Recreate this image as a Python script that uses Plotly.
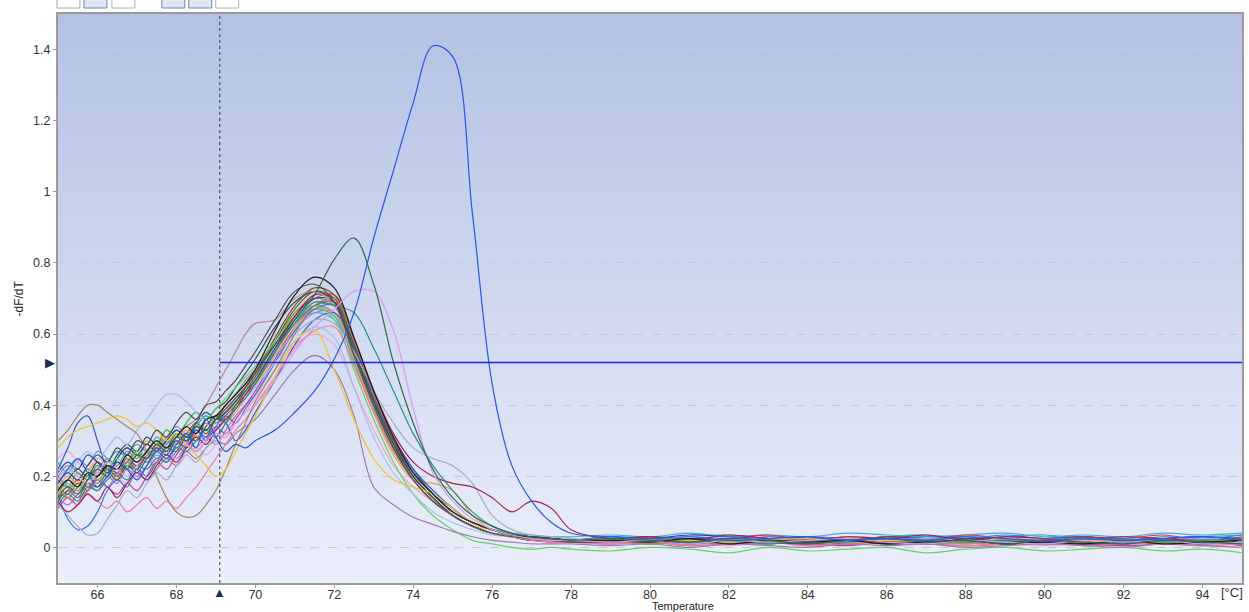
import plotly.graph_objects as go

# ---------------------------------------------------------------------------
# Melt-curve derivative data (-dF/dT) per well
# Temperature grid: 0.25 °C steps in the pre-melt region, 0.5 °C through the
# melt peak, 1 °C along the flat baseline.
# ---------------------------------------------------------------------------
TEMP_LOW = [65.0, 65.25, 65.5, 65.75, 66.0, 66.25, 66.5, 66.75, 67.0, 67.25, 67.5,
            67.75, 68.0, 68.25, 68.5, 68.75, 69.0, 69.25, 69.5, 69.75, 70.0]
TEMP_MID = [70.5, 71.0, 71.5, 72.0, 72.5, 73.0, 73.5, 74.0, 74.5, 75.0, 75.5,
            76.0, 76.5, 77.0, 77.5, 78.0]
TEMP_TAIL = [79, 80, 81, 82, 83, 84, 85, 86, 87, 88, 89, 90, 91, 92, 93, 94, 95]
TEMPS = TEMP_LOW + TEMP_MID + TEMP_TAIL

well_a1 = [0.16, 0.19, 0.17, 0.21, 0.20, 0.23, 0.22, 0.26, 0.24, 0.27, 0.30, 0.28, 0.31, 0.34, 0.32, 0.36, 0.37, 0.40, 0.43, 0.46, 0.50,
           0.61, 0.71, 0.76, 0.73, 0.59, 0.44, 0.31, 0.21, 0.15, 0.10, 0.07, 0.05, 0.035, 0.03, 0.025, 0.02,
           0.02, 0.015, 0.025, 0.01, 0.02, 0.015, 0.02, 0.01, 0.015, 0.02, 0.01, 0.015, 0.01, 0.02, 0.01, 0.015, 0.02]
well_a2 = [0.14, 0.17, 0.15, 0.19, 0.22, 0.20, 0.24, 0.22, 0.26, 0.25, 0.29, 0.27, 0.31, 0.30, 0.34, 0.33, 0.36, 0.38, 0.41, 0.44, 0.47,
           0.56, 0.64, 0.71, 0.81, 0.87, 0.74, 0.52, 0.35, 0.22, 0.14, 0.09, 0.06, 0.04, 0.03, 0.025, 0.02,
           0.025, 0.02, 0.015, 0.025, 0.02, 0.01, 0.02, 0.025, 0.015, 0.02, 0.01, 0.02, 0.015, 0.01, 0.02, 0.015, 0.01]
well_a3 = [0.19, 0.22, 0.20, 0.18, 0.21, 0.24, 0.22, 0.20, 0.23, 0.26, 0.24, 0.27, 0.25, 0.29, 0.27, 0.30, 0.32, 0.31, 0.35, 0.38, 0.40,
           0.47, 0.55, 0.62, 0.67, 0.72, 0.72, 0.61, 0.39, 0.21, 0.13, 0.08, 0.05, 0.035, 0.025, 0.02, 0.02,
           0.015, 0.02, 0.01, 0.02, 0.015, 0.02, 0.025, 0.015, 0.01, 0.02, 0.015, 0.01, 0.02, 0.015, 0.02, 0.01, 0.015]
well_a4 = [0.12, 0.15, 0.13, 0.17, 0.16, 0.19, 0.21, 0.19, 0.23, 0.22, 0.25, 0.24, 0.28, 0.27, 0.30, 0.33, 0.31, 0.35, 0.39, 0.42, 0.46,
           0.55, 0.63, 0.69, 0.68, 0.66, 0.56, 0.44, 0.32, 0.23, 0.16, 0.10, 0.06, 0.04, 0.03, 0.025, 0.02,
           0.02, 0.025, 0.015, 0.02, 0.01, 0.02, 0.015, 0.025, 0.02, 0.015, 0.02, 0.01, 0.02, 0.025, 0.015, 0.02, 0.025]
well_a5 = [0.28, 0.31, 0.33, 0.34, 0.35, 0.36, 0.37, 0.36, 0.34, 0.35, 0.33, 0.30, 0.32, 0.29, 0.26, 0.23, 0.20, 0.22, 0.27, 0.32, 0.37,
           0.48, 0.58, 0.61, 0.50, 0.36, 0.25, 0.19, 0.17, 0.15, 0.11, 0.07, 0.04, 0.03, 0.025, 0.02, 0.02,
           0.02, 0.025, 0.02, 0.015, 0.02, 0.025, 0.015, 0.02, 0.02, 0.015, 0.025, 0.02, 0.015, 0.02, 0.01, 0.02, 0.015]
well_a6 = [0.18, 0.22, 0.25, 0.21, 0.17, 0.20, 0.24, 0.22, 0.19, 0.23, 0.27, 0.25, 0.29, 0.32, 0.28, 0.36, 0.31, 0.27, 0.29, 0.28, 0.30,
           0.33, 0.38, 0.44, 0.53, 0.66, 0.87, 1.06, 1.25, 1.41, 1.38, 0.94, 0.46, 0.23, 0.13, 0.07, 0.04,
           0.03, 0.025, 0.03, 0.02, 0.025, 0.03, 0.02, 0.025, 0.02, 0.03, 0.025, 0.02, 0.025, 0.02, 0.025, 0.03, 0.02]
well_a7 = [0.15, 0.17, 0.16, 0.19, 0.21, 0.20, 0.23, 0.25, 0.24, 0.27, 0.29, 0.28, 0.31, 0.34, 0.36, 0.40, 0.45, 0.50, 0.55, 0.60, 0.63,
           0.64, 0.70, 0.72, 0.68, 0.54, 0.39, 0.27, 0.19, 0.13, 0.09, 0.06, 0.04, 0.03, 0.025, 0.02, 0.02,
           0.015, 0.02, 0.01, 0.015, 0.02, 0.01, 0.015, 0.02, 0.015, 0.01, 0.02, 0.015, 0.01, 0.015, 0.02, 0.01, 0.015]
well_a8 = [0.30, 0.33, 0.37, 0.40, 0.40, 0.38, 0.36, 0.34, 0.32, 0.27, 0.20, 0.14, 0.10, 0.085, 0.09, 0.12, 0.16, 0.22, 0.29, 0.35, 0.41,
           0.50, 0.60, 0.68, 0.70, 0.58, 0.43, 0.31, 0.21, 0.15, 0.10, 0.07, 0.05, 0.035, 0.03, 0.025, 0.02,
           0.02, 0.01, 0.02, 0.015, 0.01, 0.02, 0.015, 0.02, 0.01, 0.015, 0.02, 0.01, 0.015, 0.02, 0.01, 0.015, 0.01]
well_b1 = [0.22, 0.20, 0.24, 0.27, 0.25, 0.28, 0.31, 0.29, 0.33, 0.36, 0.40, 0.43, 0.43, 0.41, 0.38, 0.35, 0.33, 0.36, 0.39, 0.42, 0.45,
           0.52, 0.58, 0.62, 0.59, 0.45, 0.31, 0.21, 0.15, 0.10, 0.07, 0.05, 0.035, 0.03, 0.025, 0.02, 0.02,
           0.025, 0.02, 0.03, 0.02, 0.025, 0.015, 0.02, 0.025, 0.02, 0.015, 0.02, 0.025, 0.02, 0.015, 0.02, 0.025, 0.02]
well_b2 = [0.20, 0.17, 0.14, 0.16, 0.19, 0.17, 0.21, 0.24, 0.22, 0.19, 0.22, 0.25, 0.23, 0.27, 0.25, 0.28, 0.30, 0.29, 0.32, 0.34, 0.36,
           0.43, 0.50, 0.54, 0.50, 0.37, 0.17, 0.12, 0.085, 0.065, 0.045, 0.03, 0.02, 0.015, 0.01, 0.01, 0.01,
           0.005, 0.01, 0.0, 0.01, 0.005, 0.0, 0.01, 0.005, 0.01, 0.0, 0.005, 0.01, 0.005, 0.0, 0.01, 0.005, 0.0]
well_b3 = [0.13, 0.10, 0.12, 0.15, 0.13, 0.17, 0.14, 0.18, 0.21, 0.19, 0.23, 0.26, 0.24, 0.28, 0.31, 0.29, 0.33, 0.36, 0.39, 0.43, 0.47,
           0.56, 0.65, 0.71, 0.70, 0.58, 0.44, 0.32, 0.24, 0.20, 0.18, 0.17, 0.14, 0.10, 0.13, 0.11, 0.05,
           0.025, 0.03, 0.02, 0.035, 0.025, 0.02, 0.03, 0.025, 0.035, 0.02, 0.03, 0.025, 0.02, 0.03, 0.025, 0.02, 0.025]
well_b4 = [0.12, 0.09, 0.06, 0.035, 0.04, 0.08, 0.12, 0.16, 0.14, 0.18, 0.21, 0.19, 0.23, 0.26, 0.24, 0.28, 0.31, 0.35, 0.39, 0.43, 0.47,
           0.54, 0.60, 0.64, 0.63, 0.55, 0.44, 0.35, 0.28, 0.25, 0.23, 0.18, 0.09, 0.05, 0.035, 0.03, 0.025,
           0.02, 0.025, 0.015, 0.02, 0.025, 0.02, 0.015, 0.02, 0.025, 0.02, 0.015, 0.02, 0.02, 0.025, 0.015, 0.02, 0.02]
well_b5 = [0.15, 0.18, 0.16, 0.20, 0.19, 0.22, 0.25, 0.23, 0.27, 0.26, 0.29, 0.33, 0.31, 0.35, 0.38, 0.36, 0.39, 0.42, 0.45, 0.48, 0.51,
           0.58, 0.65, 0.68, 0.64, 0.50, 0.36, 0.24, 0.15, 0.09, 0.05, 0.02, 0.01, 0.0, -0.005, 0.0, -0.005,
           -0.01, 0.0, -0.005, -0.015, 0.0, -0.01, -0.005, 0.0, -0.015, -0.005, 0.0, -0.01, -0.005, 0.0, -0.01, -0.005, -0.015]
well_b6 = [0.17, 0.14, 0.12, 0.15, 0.13, 0.11, 0.13, 0.10, 0.12, 0.14, 0.11, 0.13, 0.11, 0.14, 0.17, 0.21, 0.25, 0.29, 0.33, 0.36, 0.40,
           0.48, 0.56, 0.61, 0.62, 0.51, 0.38, 0.27, 0.19, 0.13, 0.09, 0.06, 0.04, 0.03, 0.02, 0.015, 0.015,
           0.01, 0.015, 0.005, 0.01, 0.015, 0.005, 0.01, 0.015, 0.01, 0.005, 0.01, 0.015, 0.005, 0.01, 0.01, 0.005, 0.01]
well_b7 = [0.18, 0.21, 0.19, 0.23, 0.26, 0.24, 0.28, 0.26, 0.30, 0.29, 0.33, 0.31, 0.35, 0.38, 0.36, 0.40, 0.41, 0.44, 0.47, 0.51, 0.55,
           0.64, 0.72, 0.74, 0.69, 0.54, 0.40, 0.28, 0.19, 0.13, 0.09, 0.06, 0.04, 0.03, 0.025, 0.02, 0.015,
           0.015, 0.02, 0.01, 0.02, 0.015, 0.01, 0.02, 0.015, 0.01, 0.02, 0.015, 0.02, 0.01, 0.015, 0.02, 0.01, 0.02]
well_b8 = [0.14, 0.16, 0.19, 0.17, 0.20, 0.22, 0.20, 0.24, 0.22, 0.26, 0.28, 0.26, 0.30, 0.28, 0.32, 0.35, 0.33, 0.37, 0.40, 0.43, 0.46,
           0.55, 0.64, 0.70, 0.71, 0.59, 0.44, 0.31, 0.21, 0.15, 0.10, 0.07, 0.05, 0.035, 0.03, 0.025, 0.02,
           0.025, 0.03, 0.02, 0.025, 0.035, 0.02, 0.03, 0.025, 0.02, 0.035, 0.025, 0.02, 0.03, 0.025, 0.035, 0.02, 0.03]
well_c1 = [0.17, 0.20, 0.18, 0.21, 0.24, 0.22, 0.25, 0.23, 0.27, 0.30, 0.28, 0.31, 0.29, 0.33, 0.31, 0.34, 0.36, 0.35, 0.38, 0.42, 0.45,
           0.54, 0.62, 0.67, 0.66, 0.53, 0.38, 0.26, 0.19, 0.18, 0.16, 0.09, 0.05, 0.035, 0.03, 0.025, 0.02,
           0.02, 0.015, 0.025, 0.02, 0.015, 0.025, 0.02, 0.015, 0.02, 0.025, 0.015, 0.02, 0.025, 0.02, 0.015, 0.02, 0.025]
well_c2 = [0.16, 0.14, 0.17, 0.20, 0.18, 0.22, 0.20, 0.24, 0.27, 0.25, 0.28, 0.31, 0.29, 0.32, 0.35, 0.33, 0.36, 0.40, 0.43, 0.46, 0.49,
           0.58, 0.66, 0.70, 0.68, 0.54, 0.40, 0.28, 0.19, 0.13, 0.09, 0.06, 0.04, 0.03, 0.025, 0.02, 0.02,
           0.02, 0.025, 0.015, 0.02, 0.01, 0.02, 0.025, 0.015, 0.02, 0.01, 0.02, 0.015, 0.025, 0.02, 0.015, 0.01, 0.02]
well_c3 = [0.21, 0.24, 0.22, 0.26, 0.24, 0.21, 0.25, 0.28, 0.26, 0.29, 0.27, 0.30, 0.33, 0.31, 0.35, 0.38, 0.36, 0.38, 0.41, 0.45, 0.49,
           0.57, 0.65, 0.70, 0.69, 0.57, 0.43, 0.31, 0.22, 0.15, 0.11, 0.07, 0.05, 0.035, 0.03, 0.025, 0.02,
           0.03, 0.025, 0.035, 0.03, 0.025, 0.03, 0.02, 0.03, 0.025, 0.03, 0.02, 0.025, 0.03, 0.02, 0.025, 0.03, 0.025]
well_c4 = [0.15, 0.08, 0.05, 0.06, 0.10, 0.16, 0.19, 0.17, 0.22, 0.20, 0.24, 0.27, 0.25, 0.29, 0.33, 0.30, 0.34, 0.37, 0.35, 0.39, 0.43,
           0.52, 0.61, 0.67, 0.68, 0.56, 0.42, 0.30, 0.22, 0.16, 0.11, 0.07, 0.05, 0.035, 0.03, 0.025, 0.02,
           0.03, 0.02, 0.025, 0.03, 0.02, 0.03, 0.025, 0.02, 0.03, 0.025, 0.035, 0.025, 0.03, 0.02, 0.03, 0.025, 0.035]
well_c5 = [0.11, 0.14, 0.12, 0.16, 0.19, 0.17, 0.15, 0.18, 0.16, 0.20, 0.24, 0.22, 0.26, 0.29, 0.27, 0.30, 0.34, 0.32, 0.36, 0.40, 0.44,
           0.53, 0.62, 0.68, 0.69, 0.57, 0.43, 0.30, 0.20, 0.14, 0.09, 0.06, 0.04, 0.03, 0.02, 0.015, 0.015,
           0.01, 0.015, 0.005, 0.01, 0.015, 0.01, 0.005, 0.015, 0.01, 0.005, 0.01, 0.015, 0.01, 0.005, 0.01, 0.015, 0.005]
well_c6 = [0.19, 0.17, 0.21, 0.19, 0.23, 0.21, 0.25, 0.28, 0.26, 0.24, 0.27, 0.30, 0.28, 0.32, 0.30, 0.34, 0.37, 0.35, 0.39, 0.42, 0.46,
           0.55, 0.63, 0.68, 0.68, 0.56, 0.41, 0.29, 0.20, 0.14, 0.09, 0.06, 0.04, 0.03, 0.02, 0.02, 0.015,
           0.015, 0.01, 0.02, 0.015, 0.01, 0.02, 0.015, 0.01, 0.015, 0.02, 0.01, 0.015, 0.02, 0.01, 0.015, 0.01, 0.02]
well_c7 = [0.24, 0.21, 0.25, 0.23, 0.27, 0.25, 0.22, 0.26, 0.29, 0.27, 0.31, 0.29, 0.33, 0.31, 0.34, 0.37, 0.35, 0.38, 0.42, 0.45, 0.48,
           0.56, 0.63, 0.66, 0.64, 0.54, 0.41, 0.30, 0.22, 0.16, 0.11, 0.07, 0.05, 0.04, 0.035, 0.03, 0.03,
           0.035, 0.03, 0.04, 0.03, 0.035, 0.03, 0.04, 0.035, 0.03, 0.035, 0.04, 0.03, 0.035, 0.03, 0.04, 0.035, 0.04]
well_c8 = [0.20, 0.23, 0.21, 0.19, 0.22, 0.25, 0.23, 0.27, 0.25, 0.29, 0.27, 0.31, 0.34, 0.32, 0.35, 0.33, 0.37, 0.40, 0.43, 0.47, 0.50,
           0.58, 0.65, 0.68, 0.66, 0.53, 0.39, 0.28, 0.19, 0.13, 0.09, 0.06, 0.04, 0.03, 0.02, 0.02, 0.015,
           0.02, 0.015, 0.02, 0.01, 0.015, 0.02, 0.01, 0.015, 0.02, 0.015, 0.01, 0.02, 0.015, 0.01, 0.02, 0.015, 0.01]
well_d1 = [0.13, 0.16, 0.14, 0.18, 0.17, 0.21, 0.19, 0.23, 0.22, 0.26, 0.24, 0.28, 0.27, 0.31, 0.30, 0.34, 0.37, 0.36, 0.40, 0.44, 0.48,
           0.58, 0.67, 0.72, 0.70, 0.56, 0.41, 0.29, 0.20, 0.14, 0.09, 0.06, 0.04, 0.03, 0.02, 0.02, 0.015,
           0.015, 0.02, 0.015, 0.01, 0.02, 0.015, 0.02, 0.01, 0.015, 0.02, 0.015, 0.01, 0.02, 0.015, 0.01, 0.02, 0.015]
well_d2 = [0.17, 0.15, 0.18, 0.16, 0.20, 0.23, 0.21, 0.25, 0.23, 0.27, 0.30, 0.28, 0.32, 0.30, 0.34, 0.32, 0.36, 0.39, 0.42, 0.45, 0.49,
           0.59, 0.68, 0.73, 0.71, 0.58, 0.43, 0.30, 0.21, 0.15, 0.10, 0.07, 0.05, 0.035, 0.03, 0.025, 0.02,
           0.02, 0.03, 0.02, 0.025, 0.015, 0.025, 0.02, 0.03, 0.02, 0.015, 0.025, 0.02, 0.03, 0.02, 0.025, 0.015, 0.02]
well_d3 = [0.25, 0.27, 0.24, 0.22, 0.25, 0.23, 0.20, 0.18, 0.21, 0.19, 0.22, 0.25, 0.23, 0.26, 0.28, 0.26, 0.29, 0.32, 0.35, 0.38, 0.42,
           0.50, 0.57, 0.60, 0.57, 0.45, 0.33, 0.23, 0.17, 0.13, 0.10, 0.07, 0.05, 0.035, 0.025, 0.02, 0.015,
           0.01, 0.015, 0.01, 0.005, 0.015, 0.01, 0.015, 0.005, 0.01, 0.015, 0.01, 0.005, 0.01, 0.015, 0.01, 0.005, 0.01]
well_d4 = [0.16, 0.19, 0.22, 0.20, 0.24, 0.22, 0.26, 0.29, 0.27, 0.31, 0.29, 0.33, 0.31, 0.35, 0.38, 0.36, 0.39, 0.41, 0.45, 0.49, 0.53,
           0.62, 0.69, 0.72, 0.69, 0.55, 0.41, 0.29, 0.20, 0.14, 0.09, 0.06, 0.04, 0.03, 0.02, 0.02, 0.015,
           0.02, 0.015, 0.025, 0.02, 0.015, 0.02, 0.01, 0.02, 0.015, 0.025, 0.02, 0.015, 0.02, 0.01, 0.02, 0.015, 0.02]
well_d5 = [0.14, 0.12, 0.15, 0.18, 0.16, 0.20, 0.18, 0.22, 0.20, 0.23, 0.26, 0.24, 0.27, 0.30, 0.28, 0.31, 0.29, 0.33, 0.37, 0.40, 0.43,
           0.52, 0.61, 0.66, 0.66, 0.55, 0.41, 0.30, 0.22, 0.15, 0.10, 0.07, 0.05, 0.035, 0.03, 0.025, 0.02,
           0.01, 0.015, 0.02, 0.01, 0.015, 0.005, 0.015, 0.01, 0.02, 0.015, 0.01, 0.015, 0.005, 0.01, 0.015, 0.01, 0.015]
well_d6 = [0.18, 0.21, 0.19, 0.22, 0.20, 0.24, 0.27, 0.25, 0.23, 0.27, 0.25, 0.29, 0.32, 0.30, 0.34, 0.37, 0.35, 0.38, 0.41, 0.45, 0.49,
           0.57, 0.64, 0.67, 0.65, 0.52, 0.38, 0.28, 0.20, 0.14, 0.09, 0.06, 0.04, 0.035, 0.03, 0.025, 0.02,
           0.03, 0.025, 0.03, 0.035, 0.025, 0.03, 0.02, 0.03, 0.035, 0.025, 0.03, 0.035, 0.025, 0.03, 0.02, 0.03, 0.035]
well_d7 = [0.22, 0.28, 0.35, 0.37, 0.30, 0.22, 0.19, 0.23, 0.21, 0.25, 0.28, 0.26, 0.30, 0.28, 0.33, 0.31, 0.36, 0.35, 0.30, 0.33, 0.38,
           0.47, 0.57, 0.64, 0.66, 0.56, 0.42, 0.30, 0.21, 0.15, 0.10, 0.07, 0.05, 0.035, 0.03, 0.025, 0.02,
           0.02, 0.03, 0.025, 0.02, 0.03, 0.025, 0.02, 0.03, 0.025, 0.02, 0.03, 0.025, 0.03, 0.02, 0.025, 0.03, 0.02]

# Well trace colours (drawing order: background cluster first, distinct wells last)
WELL_SERIES = [
    (well_c6, "#3fa26c"), (well_c8, "#8a8a8a"), (well_d5, "#b46ec6"), (well_c5, "#c23c9c"),
    (well_d3, "#f2a8c8"), (well_c7, "#4aa6e0"), (well_d6, "#33b3b3"), (well_c2, "#8e8a2c"),
    (well_b8, "#d43a3a"), (well_c1, "#f2a040"), (well_c3, "#2c3f9c"), (well_c4, "#3a76d6"),
    (well_d7, "#3358c8"), (well_d2, "#8f4a2c"), (well_d1, "#5b6e2e"), (well_d4, "#2f5055"),
    (well_b5, "#62d462"), (well_b6, "#f27c9c"), (well_b1, "#a3bdf2"), (well_b2, "#a07ab8"),
    (well_b4, "#a3adc6"), (well_b3, "#a3214f"), (well_a8, "#a38868"), (well_a7, "#b98d90"),
    (well_a5, "#f2c12e"), (well_a4, "#2b8e8e"), (well_b7, "#4e4e4e"), (well_a1, "#1c1c1c"),
    (well_a3, "#d79bf0"), (well_a2, "#2e6b4c"), (well_a6, "#2a57e5"),
]

# Analysis cursors: start temperature of the melt window and the peak threshold
CURSOR_TEMP = 69.1
THRESHOLD = 0.52

X_RANGE = [65, 95]
Y_RANGE = [-0.1, 1.5]
X_TICKS = [66, 68, 70, 72, 74, 76, 78, 80, 82, 84, 86, 88, 90, 92, 94]
Y_TICKS = [0, 0.2, 0.4, 0.6, 0.8, 1, 1.2, 1.4]

FONT = "Liberation Sans, Arial, sans-serif"
BG_TOP = (179, 193, 228)
BG_BOTTOM = (235, 239, 250)

fig = go.Figure()

for values, colour in WELL_SERIES:
    fig.add_trace(go.Scatter(
        x=TEMPS, y=values, mode="lines",
        line=dict(color=colour, width=1.2, shape="spline", smoothing=1.0),
        hoverinfo="skip", showlegend=False,
    ))

shapes = []
# Vertical colour gradient of the plotting area, built from thin bands
N_BANDS = 140
for i in range(N_BANDS):
    t = (i + 0.5) / N_BANDS
    r, g, b = (round(BG_BOTTOM[k] + (BG_TOP[k] - BG_BOTTOM[k]) * t) for k in range(3))
    shapes.append(dict(
        type="rect", xref="paper", yref="paper", layer="below",
        x0=0, x1=1, y0=i / N_BANDS, y1=(i + 1) / N_BANDS + 0.002,
        fillcolor=f"rgb({r},{g},{b})", line=dict(width=0),
    ))

# Melt-window start cursor and threshold line
shapes.append(dict(type="line", xref="x", yref="paper", x0=CURSOR_TEMP, x1=CURSOR_TEMP,
                   y0=0, y1=1, line=dict(color="#3a3a4a", width=1, dash="dot"), layer="above"))
shapes.append(dict(type="line", xref="x", yref="y", x0=CURSOR_TEMP, x1=X_RANGE[1],
                   y0=THRESHOLD, y1=THRESHOLD, line=dict(color="#1a2ad6", width=1.5), layer="above"))

# Toolbar buttons above the chart (clipped by the top edge of the view)
button_spans = [(57, 80, "#ffffff", "#a8a8a8"), (84, 107, "#dfe6f5", "#6f86b8"),
                (112, 135, "#ffffff", "#b0b0b0"), (162, 185, "#dfe6f5", "#6f86b8"),
                (189, 212, "#dfe6f5", "#6f86b8"), (216, 239, "#ffffff", "#b0b0b0")]
PLOT_L, PLOT_W, PLOT_B, PLOT_H = 58, 1186, 583, 569
for x0, x1, fill, edge in button_spans:
    shapes.append(dict(
        type="rect", xref="paper", yref="paper",
        x0=(x0 - PLOT_L) / PLOT_W, x1=(x1 - PLOT_L) / PLOT_W,
        y0=(PLOT_B - 8) / PLOT_H, y1=(PLOT_B + 10) / PLOT_H,
        fillcolor=fill, line=dict(color=edge, width=1),
    ))

annotations = [
    # cursor handles on the axes
    dict(text="\u25B6", xref="paper", yref="y", x=0, y=THRESHOLD, xanchor="right",
         yanchor="middle", xshift=-1, showarrow=False, font=dict(size=13, color="#1e2c57")),
    dict(text="\u25B2", xref="x", yref="paper", x=CURSOR_TEMP, y=0, xanchor="center",
         yanchor="top", yshift=0, showarrow=False, font=dict(size=13, color="#1e2c57")),
    # axis captions
    dict(text="-dF/dT", xref="paper", yref="paper", x=0, y=0.5, xanchor="center",
         yanchor="middle", xshift=-40, textangle=-90, showarrow=False,
         font=dict(family=FONT, size=12, color="#222222")),
    dict(text="Temperature", xref="paper", yref="paper", x=0.528, y=0, xanchor="center",
         yanchor="top", yshift=-15, showarrow=False,
         font=dict(family=FONT, size=11, color="#222222")),
    dict(text="[\u00B0C]", xref="paper", yref="paper", x=1, y=0, xanchor="right",
         yanchor="top", xshift=3, yshift=0, showarrow=False,
         font=dict(family=FONT, size=13, color="#333333")),
]

fig.update_layout(
    width=1249, height=612, autosize=False,
    margin=dict(l=PLOT_L, r=5, t=14, b=29),
    paper_bgcolor="#ffffff", plot_bgcolor="rgba(0,0,0,0)",
    font=dict(family=FONT, size=12, color="#333333"),
    shapes=shapes, annotations=annotations, showlegend=False,
    xaxis=dict(range=X_RANGE, tickvals=X_TICKS, showgrid=False, zeroline=False,
               showline=True, linecolor="#9a9a9a", linewidth=2, mirror=True,
               ticks="outside", ticklen=3, tickcolor="#9a9a9a", ticklabelstandoff=-4,
               tickfont=dict(family=FONT, size=12.5, color="#333333")),
    yaxis=dict(range=Y_RANGE, tickvals=Y_TICKS, showgrid=True, gridcolor="#c6cad6",
               griddash="dash", gridwidth=1, zeroline=False,
               showline=True, linecolor="#9a9a9a", linewidth=2, mirror=True,
               ticks="outside", ticklen=3, tickcolor="#9a9a9a",
               tickfont=dict(family=FONT, size=12.5, color="#333333")),
)

fig.write_html("out.html")
